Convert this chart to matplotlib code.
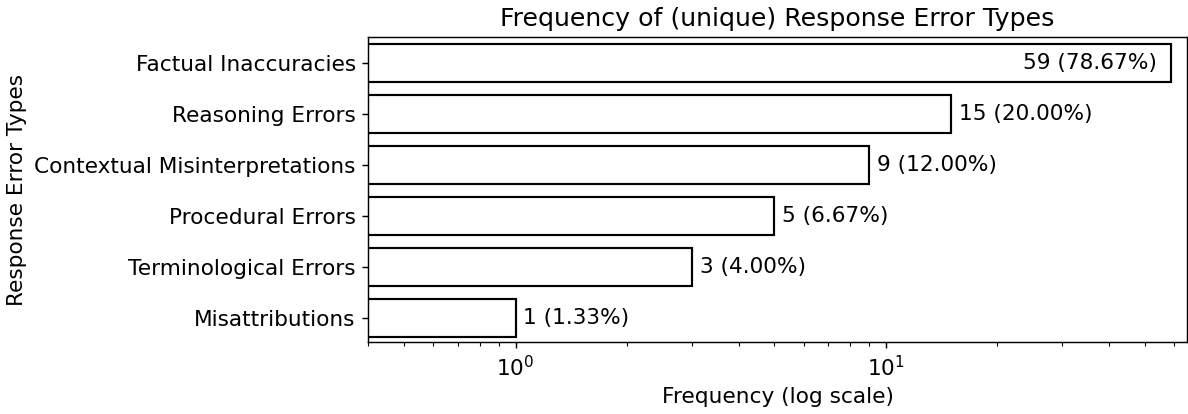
import numpy as np
import matplotlib
matplotlib.use("Agg")
import matplotlib.pyplot as plt

# --------- data ---------
categories = ["Factual Inaccuracies", "Reasoning Errors", "Contextual Misinterpretations",
              "Procedural Errors", "Terminological Errors", "Misattributions"]
counts = [59, 15, 9, 5, 3, 1]
total = 75

# --------- plot ---------
DPI = 130
fig, ax = plt.subplots(figsize=(1188 / DPI, 414 / DPI), dpi=DPI)
y = np.arange(len(categories))
ax.barh(y, counts, height=0.75, color="white", edgecolor="black", linewidth=1.2)
ax.set_xscale("log")
ax.set_xlim(0.4, 65)
ax.set_ylim(5.47, -0.51)
ax.set_yticks(y)
ax.set_yticklabels(categories)
ax.tick_params(labelsize=12)

for yi, c in zip(y, counts):
    txt = f"{c} ({c / total * 100:.2f}%)"
    if c == max(counts):
        ax.text(c * 0.915, yi, txt, ha="right", va="center", fontsize=12)
    else:
        ax.text(c * 1.05, yi, txt, ha="left", va="center", fontsize=12)

ax.set_title("Frequency of (unique) Response Error Types", fontsize=14)
ax.set_xlabel("Frequency (log scale)", fontsize=12)
ax.set_ylabel("Response Error Types", fontsize=12)

fig.subplots_adjust(left=0.31, right=0.999, top=0.91, bottom=0.174)
fig.savefig("out.png", dpi=DPI)
